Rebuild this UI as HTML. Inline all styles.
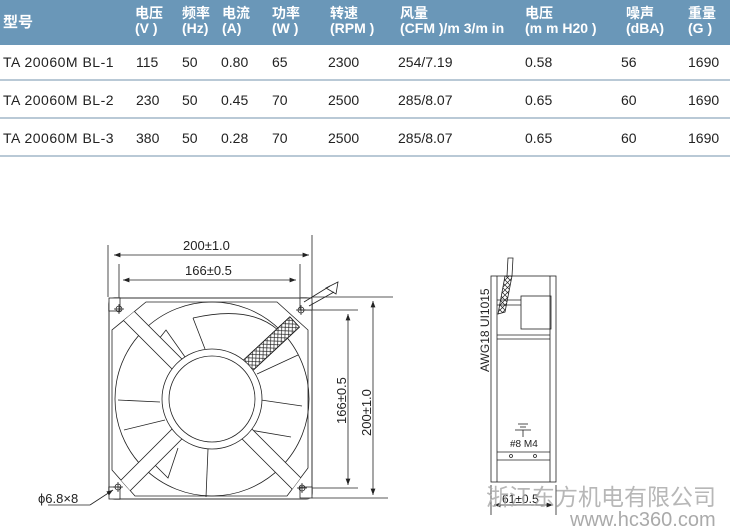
<!DOCTYPE html>
<html><head><meta charset="utf-8"><style>
body{margin:0;width:730px;height:529px;background:#fff;overflow:hidden;position:relative;font-family:"Liberation Sans","Noto Sans CJK SC",sans-serif}
.hd{position:absolute;left:0;top:0;width:730px;height:45px;background:#6a97b8}
.t{position:absolute;white-space:nowrap}
.h{color:#fff;font-weight:bold;font-size:14px;line-height:15px}
.r{font-size:14px;color:#222}
.ln{position:absolute;left:0;width:730px;height:2px;background:#b9c9d6}
</style></head><body>
<div class="hd"></div>
<div class="t h" style="left:3px;top:15px;font-size:15px">型号</div>
<div class="t h" style="left:135px;top:6px">电压<br>(V )</div>
<div class="t h" style="left:182px;top:6px">频率<br>(Hz)</div>
<div class="t h" style="left:222px;top:6px">电流<br>(A)</div>
<div class="t h" style="left:272px;top:6px">功率<br>(W )</div>
<div class="t h" style="left:330px;top:6px">转速<br>(RPM )</div>
<div class="t h" style="left:400px;top:6px">风量<br>(CFM )/m 3/m in</div>
<div class="t h" style="left:525px;top:6px">电压<br>(m m H20 )</div>
<div class="t h" style="left:626px;top:6px">噪声<br>(dBA)</div>
<div class="t h" style="left:688px;top:6px">重量<br>(G )</div>
<div class="ln" style="top:79px"></div><div class="ln" style="top:117px"></div><div class="ln" style="top:155px"></div>
<div class="t r" style="left:3px;top:54px;letter-spacing:0.5px">TA 20060M BL-1</div>
<div class="t r" style="left:3px;top:92px;letter-spacing:0.5px">TA 20060M BL-2</div>
<div class="t r" style="left:3px;top:130px;letter-spacing:0.5px">TA 20060M BL-3</div>
<div class="t r" style="left:136px;top:54px">115</div><div class="t r" style="left:136px;top:92px">230</div><div class="t r" style="left:136px;top:130px">380</div>
<div class="t r" style="left:182px;top:54px">50</div><div class="t r" style="left:182px;top:92px">50</div><div class="t r" style="left:182px;top:130px">50</div>
<div class="t r" style="left:221px;top:54px">0.80</div><div class="t r" style="left:221px;top:92px">0.45</div><div class="t r" style="left:221px;top:130px">0.28</div>
<div class="t r" style="left:272px;top:54px">65</div><div class="t r" style="left:272px;top:92px">70</div><div class="t r" style="left:272px;top:130px">70</div>
<div class="t r" style="left:328px;top:54px">2300</div><div class="t r" style="left:328px;top:92px">2500</div><div class="t r" style="left:328px;top:130px">2500</div>
<div class="t r" style="left:398px;top:54px">254/7.19</div><div class="t r" style="left:398px;top:92px">285/8.07</div><div class="t r" style="left:398px;top:130px">285/8.07</div>
<div class="t r" style="left:525px;top:54px">0.58</div><div class="t r" style="left:525px;top:92px">0.65</div><div class="t r" style="left:525px;top:130px">0.65</div>
<div class="t r" style="left:621px;top:54px">56</div><div class="t r" style="left:621px;top:92px">60</div><div class="t r" style="left:621px;top:130px">60</div>
<div class="t r" style="left:688px;top:54px">1690</div><div class="t r" style="left:688px;top:92px">1690</div><div class="t r" style="left:688px;top:130px">1690</div>

<svg width="730" height="529" style="position:absolute;left:0;top:0" font-family="Liberation Sans,sans-serif">
<defs><marker id="a" markerWidth="8" markerHeight="6" refX="8" refY="3" orient="auto-start-reverse"><path d="M0,0L8,3L0,6z" fill="#222"/></marker>
<pattern id="x" width="5" height="5" patternUnits="userSpaceOnUse"><path d="M0,0L5,5M5,0L0,5" stroke="#222" stroke-width="0.7"/></pattern>
<clipPath id="oc"><path d="M146,302L277,302L308,330L308,468L287,496L135,496L112,470L112,330Z"/></clipPath></defs>
<g stroke="#222" fill="none" stroke-width="0.8">
<line x1="108" y1="245" x2="108" y2="297"/><line x1="312" y1="235" x2="312" y2="297"/>
<line x1="119" y1="264" x2="119" y2="298"/><line x1="300" y1="264" x2="300" y2="298"/>
<line x1="114" y1="255" x2="309" y2="255" marker-start="url(#a)" marker-end="url(#a)"/>
<line x1="123" y1="280" x2="296" y2="280" marker-start="url(#a)" marker-end="url(#a)"/>
<line x1="312" y1="297" x2="393" y2="297"/><line x1="300" y1="310" x2="358" y2="310"/>
<line x1="300" y1="488" x2="358" y2="488"/><line x1="312" y1="498" x2="388" y2="498"/>
<line x1="373" y1="301" x2="373" y2="495" marker-start="url(#a)" marker-end="url(#a)"/>
<line x1="348" y1="314" x2="348" y2="485" marker-start="url(#a)" marker-end="url(#a)"/>
<rect x="109" y="298" width="203" height="201" rx="6" stroke="#777" stroke-width="1.5"/>
<path d="M146,302L277,302L308,330L308,468L287,496L135,496L112,470L112,330Z"/>
<circle cx="212" cy="399" r="97"/>
<!-- blades -->
<path d="M155,344L166,330L190,364"/><path d="M118,400L160,402"/><path d="M124,430L165,420"/>
<path d="M150,460L168,478L178,448"/><path d="M208,449L206,497"/><path d="M250,430L291,437"/>
<path d="M261,400L302,406"/><path d="M257,374L298,355"/><path d="M205,349L193,318"/>
<path d="M193,318Q250,305 278,330"/>
<g clip-path="url(#oc)">
<g transform="translate(212,399) rotate(225)"><rect x="48" y="-7" width="90" height="14" fill="#fff"/></g>
<g transform="translate(212,399) rotate(135)"><rect x="48" y="-7" width="90" height="14" fill="#fff"/></g>
<g transform="translate(212,399) rotate(45)"><rect x="48" y="-7" width="90" height="14" fill="#fff"/></g>
<g transform="translate(212,399) rotate(-43)"><rect x="48" y="-7" width="65" height="14" fill="#fff"/><rect x="48" y="-7" width="65" height="14" fill="url(#x)"/></g>
</g>
<circle cx="212" cy="399" r="50" fill="#fff"/><circle cx="212" cy="399" r="43"/>
<rect x="109" y="298" width="11" height="13" fill="#fff"/><rect x="300" y="298" width="12" height="12" fill="#fff"/>
<rect x="109" y="487" width="11" height="12" fill="#fff"/><rect x="300" y="487" width="12" height="11" fill="#fff"/>
<circle cx="119" cy="309" r="3"/><line x1="119" y1="304" x2="119" y2="314"/><line x1="114" y1="309" x2="124" y2="309"/>
<circle cx="301" cy="310" r="3"/><line x1="301" y1="305" x2="301" y2="315"/><line x1="296" y1="310" x2="306" y2="310"/>
<circle cx="118" cy="487" r="3"/><line x1="118" y1="482" x2="118" y2="492"/><line x1="113" y1="487" x2="123" y2="487"/>
<circle cx="302" cy="488" r="3"/><line x1="302" y1="483" x2="302" y2="493"/><line x1="297" y1="488" x2="307" y2="488"/>
<path d="M304,302L330,286M309,306L334,292"/><path d="M326,288L338,282L336,294Z"/>
<line x1="90" y1="505" x2="113" y2="490" marker-end="url(#a)"/><line x1="48" y1="505" x2="90" y2="505"/>
<rect x="491" y="276" width="65" height="206"/>
<line x1="497" y1="276" x2="497" y2="482"/><line x1="550" y1="276" x2="550" y2="482"/>
<rect x="521" y="296" width="30" height="33"/>
<line x1="497" y1="300" x2="521" y2="300"/><line x1="497" y1="305" x2="521" y2="305"/>
<line x1="497" y1="335" x2="550" y2="335"/><line x1="497" y1="339" x2="550" y2="339"/>
<line x1="497" y1="452" x2="550" y2="452"/><line x1="497" y1="460" x2="550" y2="460"/>
<circle cx="511" cy="456" r="1.5"/><circle cx="535" cy="456" r="1.5"/>
<path d="M498,314L505,312L512,276L505,276Z" fill="url(#x)"/>
<path d="M507,276L508,258L513,258L512,276"/>
<line x1="518" y1="424" x2="528" y2="424"/><line x1="520" y1="427" x2="526" y2="427"/><line x1="515" y1="430" x2="531" y2="430"/><line x1="523" y1="430" x2="523" y2="437"/>
<line x1="491" y1="485" x2="491" y2="515"/><line x1="556" y1="485" x2="556" y2="515"/>
<line x1="494" y1="505" x2="553" y2="505" marker-start="url(#a)" marker-end="url(#a)"/>
</g>
<g fill="#222" font-size="13">
<text x="183" y="250">200±1.0</text><text x="185" y="275">166±0.5</text>
<text x="0" y="0" transform="translate(346,424) rotate(-90)">166±0.5</text>
<text x="0" y="0" transform="translate(371,436) rotate(-90)">200±1.0</text>
<text x="38" y="503">ϕ6.8×8</text>
<text x="0" y="0" transform="translate(489,372) rotate(-90)" font-size="12">AWG18 UI1015</text>
<text x="510" y="447" font-size="10">#8  M4</text>
<text x="502" y="503" font-size="12">61±0.5</text>
</g>
<text x="486" y="505" font-size="23" fill="#aaa" fill-opacity="0.85" font-family="Noto Sans CJK SC,sans-serif">浙江东方机电有限公司</text>
<text x="570" y="526" font-size="20" fill="#aaa" font-family="Liberation Sans,sans-serif">www.hc360.com</text>
</svg>
</body></html>
